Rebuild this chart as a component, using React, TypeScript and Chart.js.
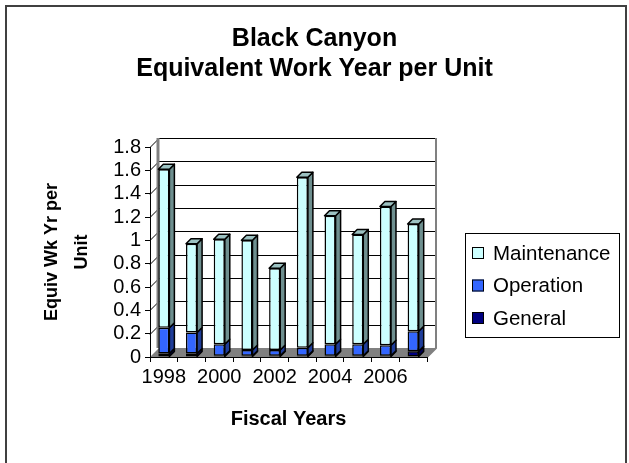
import React, { useEffect, useRef } from 'react';
import { Chart, registerables } from 'chart.js';

Chart.register(...registerables);

const FONT = "'Liberation Sans', Arial, Helvetica, sans-serif";

// ---- data ----
const titleLines = ['Black Canyon', 'Equivalent Work Year per Unit'];
const years = ['1998', '1999', '2000', '2001', '2002', '2003', '2004', '2005', '2006', '2007'];
const general = [0.03, 0.03, 0.01, 0.01, 0.01, 0.01, 0.01, 0.01, 0.01, 0.05];
const operation = [0.22, 0.18, 0.1, 0.05, 0.05, 0.07, 0.1, 0.1, 0.09, 0.17];
const maintenance = [1.36, 0.76, 0.9, 0.94, 0.7, 1.46, 1.1, 0.94, 1.19, 0.92];
const seriesNames = ['General', 'Operation', 'Maintenance'];
const yMin = 0;
const yMax = 1.8;
const yStep = 0.2;
const yTitle = ['Equiv Wk Yr per', 'Unit'];
const xTitle = 'Fiscal Years';

// ---- styles ----
const seriesColors = ['#000080', '#3366FF', '#CCFFFF'];
const sideColors = ['#00004D', '#1F3D99', '#6E8F8F'];
const topColor = '#9CC2C2';
const WALL = 9;
const BAR_D = 5;
const LEGEND = { left: 465, top: 233, right: 619, bottom: 337, rowStart: 20, rowGap: 32.5, box: 12, font: 20.5 };

const frame3d = {
  id: 'frame3d',
  beforeDraw(chart: any) {
    const { ctx, width, height, chartArea, scales } = chart;
    const { left, right, top, bottom } = chartArea;
    const y = scales.y;
    ctx.save();
    ctx.fillStyle = '#fff';
    ctx.fillRect(0, 0, width, height);
    // floor
    ctx.fillStyle = '#808080';
    ctx.beginPath();
    ctx.moveTo(left, bottom);
    ctx.lineTo(right, bottom);
    ctx.lineTo(right + WALL, bottom - WALL);
    ctx.lineTo(left + WALL, bottom - WALL);
    ctx.closePath();
    ctx.fill();
    // gridlines on side + back wall
    ctx.strokeStyle = '#000';
    ctx.lineWidth = 1;
    y.ticks.forEach((t: any) => {
      if (t.value <= yMin) return;
      const yy = Math.round(y.getPixelForValue(t.value)) + 0.5;
      ctx.beginPath();
      ctx.moveTo(left, yy);
      ctx.lineTo(left + WALL, yy - WALL);
      ctx.lineTo(right + WALL, yy - WALL);
      ctx.stroke();
    });
    // wall edges
    ctx.strokeStyle = '#808080';
    ctx.lineWidth = 3;
    ctx.beginPath();
    ctx.moveTo(left + WALL - 1, top - WALL);
    ctx.lineTo(left + WALL - 1, bottom - WALL);
    ctx.stroke();
    ctx.lineWidth = 2;
    ctx.beginPath();
    ctx.moveTo(right + WALL, top - WALL);
    ctx.lineTo(right + WALL, bottom - WALL);
    ctx.lineTo(right, bottom);
    ctx.stroke();
    ctx.restore();
  },
  afterDatasetsDraw(chart: any) {
    const { ctx } = chart;
    const n = chart.data.datasets.length;
    ctx.save();
    ctx.strokeStyle = '#000';
    ctx.lineWidth = 1.5;
    ctx.lineJoin = 'round';
    for (let di = 0; di < n; di++) {
      const meta = chart.getDatasetMeta(di);
      meta.data.forEach((el: any) => {
        const { x, y, base, width } = el.getProps(['x', 'y', 'base', 'width'], true);
        const r = x + width / 2;
        const l = x - width / 2;
        ctx.fillStyle = sideColors[di];
        ctx.beginPath();
        ctx.moveTo(r, y);
        ctx.lineTo(r + BAR_D, y - BAR_D);
        ctx.lineTo(r + BAR_D, base - BAR_D);
        ctx.lineTo(r, base);
        ctx.closePath();
        ctx.fill();
        ctx.stroke();
        if (di === n - 1) {
          ctx.fillStyle = topColor;
          ctx.beginPath();
          ctx.moveTo(l, y);
          ctx.lineTo(l + BAR_D, y - BAR_D);
          ctx.lineTo(r + BAR_D, y - BAR_D);
          ctx.lineTo(r, y);
          ctx.closePath();
          ctx.fill();
          ctx.stroke();
        }
      });
    }
    ctx.restore();
  },
  afterDraw(chart: any) {
    const { ctx } = chart;
    ctx.save();
    // outer border
    ctx.strokeStyle = '#404040';
    ctx.lineWidth = 2;
    ctx.strokeRect(6, 6, 620, 480);
    // legend
    ctx.strokeStyle = '#000';
    ctx.lineWidth = 1;
    ctx.strokeRect(LEGEND.left + 0.5, LEGEND.top + 0.5, LEGEND.right - LEGEND.left, LEGEND.bottom - LEGEND.top);
    ctx.font = `${LEGEND.font}px ${FONT}`;
    ctx.textBaseline = 'middle';
    ctx.textAlign = 'left';
    const ds = chart.data.datasets;
    for (let k = 0; k < ds.length; k++) {
      const d = ds[ds.length - 1 - k];
      const cy = LEGEND.top + LEGEND.rowStart + k * LEGEND.rowGap;
      const bx = LEGEND.left + 7;
      ctx.fillStyle = d.backgroundColor;
      ctx.fillRect(bx, cy - LEGEND.box / 2, LEGEND.box, LEGEND.box);
      ctx.strokeRect(bx + 0.5, cy - LEGEND.box / 2 + 0.5, LEGEND.box - 1, LEGEND.box - 1);
      ctx.fillStyle = '#000';
      ctx.fillText(d.label, LEGEND.left + 28, cy + 1);
    }
    ctx.restore();
  },
};

export default function App() {
  const ref = useRef<HTMLCanvasElement | null>(null);
  useEffect(() => {
    if (!ref.current) return;
    Chart.defaults.font.family = FONT;
    Chart.defaults.color = '#000';
    const values = [general, operation, maintenance];
    const chart = new Chart(ref.current, {
      type: 'bar',
      data: {
        labels: years,
        datasets: values.map((v, i) => ({
          label: seriesNames[i],
          data: v,
          backgroundColor: seriesColors[i],
          borderColor: '#000',
          borderWidth: 1.5,
          borderSkipped: false,
          barPercentage: 0.4,
          categoryPercentage: 1,
        })),
      },
      options: {
        responsive: false,
        animation: false,
        devicePixelRatio: 1,
        layout: { padding: { left: 0, right: 0, top: 0, bottom: 0 } },
        plugins: {
          legend: { display: false },
          tooltip: { enabled: false },
          title: {
            display: true,
            text: titleLines,
            color: '#000',
            font: { size: 25, weight: 'bold', lineHeight: 1.2 },
            padding: { top: 24, bottom: 63 },
          },
        },
        scales: {
          x: {
            stacked: true,
            grid: { display: true, drawOnChartArea: false, tickLength: 5, color: '#000', offset: true },
            border: { display: true, color: '#000', width: 1 },
            ticks: {
              autoSkip: false,
              maxRotation: 0,
              padding: 3,
              font: { size: 20 },
              callback: function (this: any, value: any, index: number) {
                return index % 2 === 0 ? this.getLabelForValue(value) : '';
              },
            },
            title: {
              display: true,
              text: xTitle,
              font: { size: 20, weight: 'bold', lineHeight: 1.2 },
              padding: { top: 0, bottom: 32 },
            },
            afterFit: (s: any) => {
              s.height = 106;
            },
          },
          y: {
            stacked: true,
            min: yMin,
            max: yMax,
            grid: { display: true, drawOnChartArea: false, tickLength: 5, color: '#000' },
            border: { display: true, color: '#000', width: 1 },
            ticks: {
              stepSize: yStep,
              autoSkip: false,
              padding: 4,
              font: { size: 20 },
              callback: (v: any) => String(Number(Number(v).toFixed(1))),
            },
            title: {
              display: true,
              text: yTitle,
              font: { size: 18, weight: 'bold', lineHeight: 1.65 },
              padding: { top: 37, bottom: 0 },
            },
            afterFit: (s: any) => {
              s.width = 150;
            },
          },
          legendSpace: {
            type: 'linear',
            position: 'right',
            display: true,
            min: 0,
            max: 1,
            grid: { display: false },
            border: { display: false },
            ticks: { display: false },
            afterFit: (s: any) => {
              s.width = 202;
            },
          },
        },
      },
      plugins: [frame3d],
    });
    return () => chart.destroy();
  }, []);
  return (
    <div style={{ position: 'absolute', left: 0, top: 0, width: 629, height: 463 }}>
      <canvas ref={ref} width={629} height={463} style={{ display: 'block', width: 629, height: 463 }} />
    </div>
  );
}
